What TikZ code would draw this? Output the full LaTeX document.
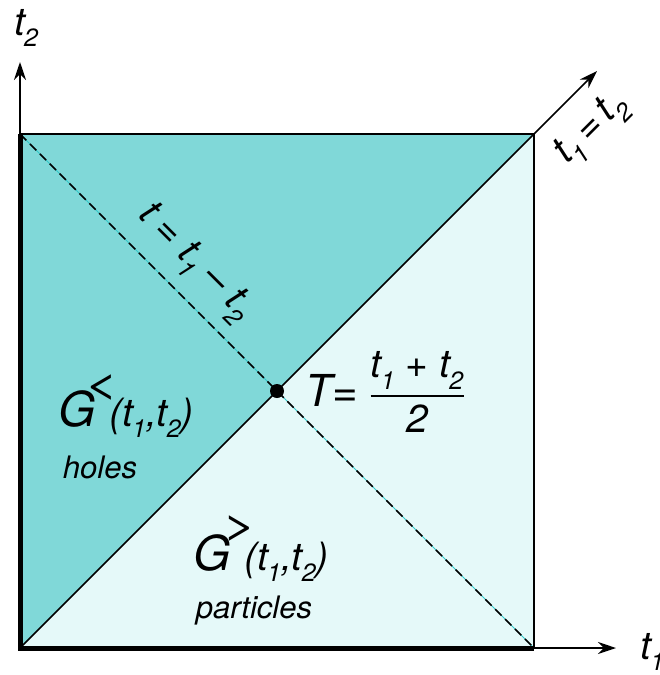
\documentclass[tikz,border=0pt]{standalone}
\usepackage{fontspec}
\setmainfont{TeX Gyre Heros}
\usetikzlibrary{arrows.meta}
\usetikzlibrary{positioning}
\definecolor{holefill}{HTML}{80D8D8}
\definecolor{partfill}{HTML}{E5F9F9}
\definecolor{diagcyan}{HTML}{30C8C8}
\newcommand{\tvar}[1]{\textit{t}\kern-0.02em\raisebox{-0.3em}{\fontsize{25}{25}\selectfont\textit{#1}}}
\newcommand{\gfun}{{\fontsize{48}{48}\selectfont G}\kern0.35em(\tvar{1},\tvar{2})}

\begin{document}
\begin{tikzpicture}[x=1pt,y=-1pt,
    axis/.style={line width=1.5pt,-{Stealth[length=18pt,width=12pt]}},
    edge/.style={line width=1.5pt},
    border/.style={line width=5pt},
    lbl/.style={inner sep=0pt,font=\fontsize{39}{41}\selectfont\itshape},
    big/.style={inner sep=0pt,font=\fontsize{39}{41}\selectfont\itshape},
    sign/.style={inner sep=0pt,font=\fontsize{40}{40}\selectfont,xscale=1.5},
    small/.style={inner sep=0pt,font=\fontsize{31}{33}\selectfont\itshape}]
  \useasboundingbox (0,0) rectangle (659,675);
  % corners of the square
  \coordinate (o) at (20,648);
  \coordinate (tl) at (20,134);
  \coordinate (tr) at (534,134);
  \coordinate (br) at (534,648);
  \coordinate (mid) at (277,391);
  \coordinate (t2end) at (20,62);
  \coordinate (t1end) at (616,648);
  \coordinate (diagend) at (597,71);

  \fill[holefill] (o) -- (tl) -- (tr) -- cycle;
  \fill[partfill] (o) -- (tr) -- (br) -- cycle;

  % t = t1 - t2 line
  \draw[diagcyan, line width=1pt] (tl) -- (br);
  \draw[line width=1.5pt, dash pattern=on 9pt off 5pt] (tl) -- (br);

  \draw[edge] (tl) -- (tr) -- (br);
  \draw[axis] (tl) -- (t2end);
  \draw[axis] (br) -- (t1end);
  \draw[axis] (o) -- (diagend);
  \draw[border] (tl) -- (o) -- (br);
  \fill (mid) circle (7pt);

  % labels
  \node[lbl] (t2lab) at (26,28) {\tvar{2}};
  \node[lbl, anchor=west] (t1lab) at (640,652) {\tvar{1}};
  \node[lbl, rotate=45] (eqlab) at (592,130) {\tvar{1}\,\textup{=}\,\tvar{2}};
  \node[lbl, rotate=-45] (tlab) at (194,263) {\textit{t} = \tvar{1} -- \tvar{2}};
  \node[lbl, font=\fontsize{44}{46}\selectfont\itshape] (Tlab) at (332,390) {T=};
  \node[lbl] (frac) at (417,392) {$\vcenter{\hbox to 93pt{\hfil\tvar{1} + \tvar{2}\hfil}\kern6pt\hrule height 1.5pt\kern8pt\hbox to 93pt{\hfil\textit{2}\hfil}}$};

  \node[big] (gless) at (126,414) {\gfun};
  \node[sign] (lsign) at (102,387) {<};
  \node[small] (holes) at (100,467) {holes};
  \node[big] (gmore) at (261,558) {\gfun};
  \node[sign] (gsign) at (240,528) {>};
  \node[small] (parts) at (254,610) {particles};
\end{tikzpicture}
\end{document}
